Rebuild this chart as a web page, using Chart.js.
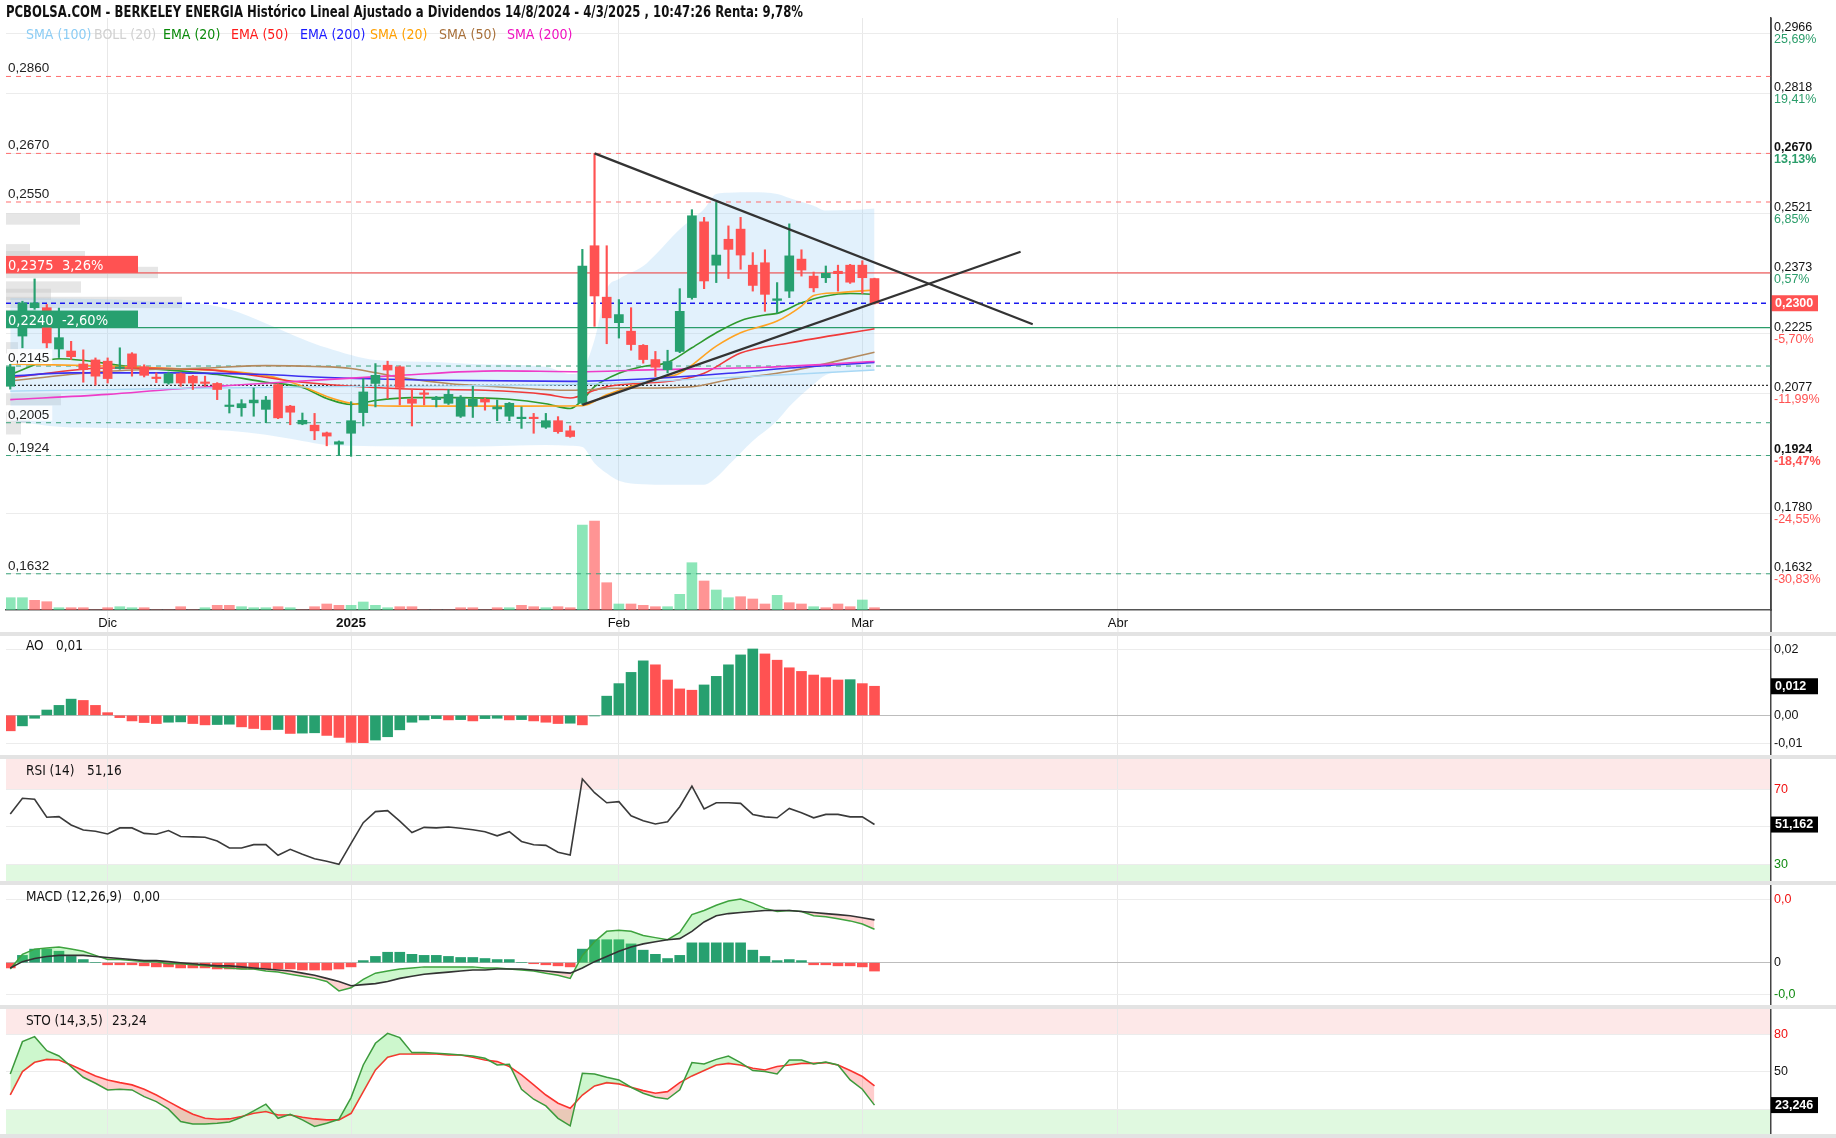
<!DOCTYPE html>
<html>
<head>
<meta charset="utf-8">
<title>Berkeley Energia</title>
<script src="https://cdn.jsdelivr.net/npm/chart.js@4.4.1/dist/chart.umd.min.js"></script>
<style>
  body { margin: 0; background: #fff; width: 1836px; height: 1138px; position: relative; overflow: hidden; font-family: "Liberation Sans", Arial, sans-serif; }
  canvas { position: absolute; left: 0; }
  .narrow { font-family: "Liberation Sans Narrow", "DejaVu Sans Condensed", "Roboto Condensed", sans-serif; }
  #title { position: absolute; left: 6px; top: 3px; font-size: 15px; font-weight: bold; color: #111; white-space: nowrap; z-index: 2; transform-origin: left top; }
  .leg { position: absolute; top: 26px; font-size: 14px; white-space: nowrap; z-index: 2; }
  .pt { position: absolute; font-size: 13.5px; color: #111; z-index: 2; white-space: nowrap; }
  .sep { position: absolute; left: 0; width: 1836px; background: #e3e3e3; }
</style>
</head>
<body>
<div id="title" class="narrow">PCBOLSA.COM - BERKELEY ENERGIA Histórico Lineal Ajustado a Dividendos 14/8/2024 - 4/3/2025 , 10:47:26 Renta: 9,78%</div>
<div class="leg narrow" style="left:26px;color:#8ccdf5">SMA (100)</div>
<div class="leg narrow" style="left:94px;color:#d0d0d0">BOLL (20)</div>
<div class="leg narrow" style="left:163px;color:#0a8a0a">EMA (20)</div>
<div class="leg narrow" style="left:231px;color:#ff1a1a">EMA (50)</div>
<div class="leg narrow" style="left:300px;color:#1a1aff">EMA (200)</div>
<div class="leg narrow" style="left:370px;color:#ffa000">SMA (20)</div>
<div class="leg narrow" style="left:439px;color:#a8703a">SMA (50)</div>
<div class="leg narrow" style="left:507px;color:#f010c0">SMA (200)</div>

<canvas id="mainChart" width="1836" height="632" style="top:0"></canvas>
<div class="sep" style="top:632px;height:4px"></div>
<canvas id="aoChart" width="1836" height="119" style="top:636px"></canvas>
<div class="sep" style="top:755px;height:4px"></div>
<canvas id="rsiChart" width="1836" height="122" style="top:759px"></canvas>
<div class="sep" style="top:881px;height:4px"></div>
<canvas id="macdChart" width="1836" height="120" style="top:885px"></canvas>
<div class="sep" style="top:1005px;height:4px"></div>
<canvas id="stoChart" width="1836" height="125" style="top:1009px"></canvas>
<div class="sep" style="top:1134px;height:4px"></div>

<div class="pt narrow" style="left:26px;top:637px">AO</div>
<div class="pt narrow" style="left:56px;top:637px">0,01</div>
<div class="pt narrow" style="left:26px;top:762px">RSI (14)</div>
<div class="pt narrow" style="left:87px;top:762px">51,16</div>
<div class="pt narrow" style="left:26px;top:888px">MACD (12,26,9)</div>
<div class="pt narrow" style="left:133px;top:888px">0,00</div>
<div class="pt narrow" style="left:26px;top:1012px">STO (14,3,5)</div>
<div class="pt narrow" style="left:112px;top:1012px">23,24</div>

<script>
// trading days shown (index 0 = 20/11/2024)
var days = ['20/11','21/11','22/11','25/11','26/11','27/11','28/11','29/11',
  '02/12','03/12','04/12','05/12','06/12','09/12','10/12','11/12','12/12','13/12',
  '16/12','17/12','18/12','19/12','20/12','23/12','24/12','27/12','30/12','31/12',
  '02/01','03/01','06/01','07/01','08/01','09/01','10/01','13/01','14/01','15/01','16/01','17/01',
  '20/01','21/01','22/01','23/01','24/01','27/01','28/01','29/01','30/01','31/01',
  '03/02','04/02','05/02','06/02','07/02','10/02','11/02','12/02','13/02','14/02',
  '17/02','18/02','19/02','20/02','21/02','24/02','25/02','26/02','27/02','28/02',
  '03/03','04/03'];
var monthIdx = [8, 28, 50, 70, 91];
var monthLabels = ['Dic', '2025', 'Feb', 'Mar', 'Abr'];

var open = [.2095,.2219,.2289,.2289,.2187,.2182,.2150,.2160,.2157,.2139,.2175,.2143,.2117,.2103,.2126,.2120,.2105,.2102,.2045,.2042,
  .2054,.2038,.2099,.2046,.2002,.1999,.1980,.1952,.1979,.2030,.2102,.2147,.2143,.2063,.2077,.2062,.2053,.2021,.2046,.2063,
  .2039,.2021,.2015,.2017,.1994,.2010,.1985,.2053,.2442,.2315,.2252,.2231,.2196,.2161,.2136,.2181,.2314,.2501,.2394,.2458,
  .2483,.2394,.2400,.2307,.2330,.2409,.2367,.2363,.2379,.2394,.2394,.2361];
var high = [.2150,.2305,.2360,.2297,.2288,.2206,.2185,.2165,.2165,.2190,.2178,.2148,.2128,.2130,.2128,.2122,.2120,.2104,.2087,.2062,
  .2091,.2070,.2101,.2048,.2029,.2028,.1982,.1960,.2057,.2114,.2151,.2157,.2145,.2087,.2087,.2070,.2087,.2072,.2095,.2066,
  .2061,.2055,.2044,.2028,.2028,.2020,.1997,.2433,.2670,.2442,.2309,.2289,.2198,.2181,.2184,.2336,.2531,.2512,.2549,.2491,
  .2512,.2425,.2432,.2351,.2496,.2432,.2377,.2392,.2394,.2396,.2405,.2362];
var low = [.2088,.2190,.2285,.2190,.2166,.2161,.2105,.2098,.2103,.2137,.2120,.2118,.2104,.2100,.2095,.2087,.2095,.2062,.2029,.2021,
  .2021,.2005,.2015,.2000,.2000,.1963,.1948,.1924,.1922,.1997,.2044,.2065,.2049,.1997,.2049,.2044,.2050,.2018,.2018,.2036,
  .2010,.2010,.1991,.1979,.1991,.1979,.1969,.2050,.2243,.2200,.2214,.2184,.2152,.2119,.2128,.2178,.2310,.2336,.2351,.2361,
  .2384,.2330,.2280,.2276,.2314,.2367,.2328,.2351,.2330,.2349,.2324,.2298];
var close = [.2143,.2301,.2301,.2202,.2215,.2168,.2136,.2120,.2114,.2143,.2143,.2122,.2114,.2126,.2103,.2103,.2102,.2087,.2047,.2052,
  .2061,.2061,.2017,.2031,.2011,.1985,.1972,.1958,.2010,.2081,.2122,.2135,.2092,.2053,.2075,.2067,.2075,.2067,.2063,.2056,
  .2044,.2053,.2017,.2015,.2010,.1983,.1971,.2392,.2318,.2264,.2272,.2198,.2161,.2142,.2156,.2280,.2516,.2355,.2419,.2433,
  .2419,.2344,.2322,.2311,.2417,.2382,.2338,.2374,.2373,.2352,.2363,.2300];
var volume = [123,123,97,83,23,23,23,0,23,33,23,23,0,0,33,0,23,47,47,33,
  23,23,33,23,0,33,60,47,47,80,47,23,33,33,0,0,0,23,23,0,
  23,23,47,33,23,33,23,850,890,273,60,60,47,33,33,157,473,290,200,123,
  133,110,60,147,73,60,33,23,60,33,100,23];
var volumeUp = [1,1,0,0,1,0,0,0,0,1,1,0,0,0,0,0,1,0,0,1,
  1,1,0,1,0,0,0,0,1,1,1,1,0,0,0,0,0,0,0,0,
  0,1,0,0,1,0,0,1,0,0,1,0,0,0,1,1,1,0,1,1,
  0,0,0,1,0,0,1,0,0,0,1,0];

// overlays: [day index, price]
var sma100 = [[0,.2083],[15,.2090],[30,.2095],[47,.2100],[56,.2112],[71,.2135]];
var bandX = [0,4,8,13,15,18,21,24,26,30,35,38,44,46,47,48,49,50,52,53,55,57,58,59,61,63,64,66,67,69,71];
var bandUp = [.2313,.2312,.2310,.2303,.2301,.2285,.2250,.2212,.2190,.2160,.2155,.2150,.2143,.2125,.2136,.2210,.2334,.2360,.2392,.2420,
  .2483,.2533,.2570,.2573,.2574,.2570,.2560,.2541,.2529,.2530,.2534];
var bandLow = [.2010,.1995,.1992,.1990,.1989,.1985,.1975,.1960,.1950,.1947,.1946,.1946,.1950,.1948,.1945,.1905,.1880,.1862,.1853,.1852,
  .1852,.1852,.1870,.1900,.1960,.2010,.2045,.2100,.2123,.2132,.2136];
var ema20 = [[0,.2124],[4,.2163],[10,.2143],[17,.2124],[21,.2105],[24,.2092],[26,.2065],[28,.2050],[30,.2060],[33,.2067],[37,.2067],
  [41,.2063],[44,.2052],[46,.2040],[47,.2061],[48,.2094],[50,.2127],[52,.2144],[54,.2154],[56,.2190],[58,.2227],[60,.2257],
  [62,.2271],[63,.2275],[65,.2301],[67,.2318],[69,.2324],[71,.2322]];
var ema50 = [[0,.2116],[8,.2140],[16,.2136],[24,.2105],[32,.2089],[39,.2085],[44,.2075],[46,.2066],[48,.2085],[49,.2094],
  [55,.2111],[57,.2127],[60,.2177],[64,.2202],[71,.2237]];
var ema200 = [[0,.2120],[5,.2128],[13,.2128],[21,.2124],[25,.2118],[35,.2110],[46,.2107],[52,.2113],[59,.2127],[64,.2140],[71,.2154]];
var sma20 = [[0,.2150],[8,.2145],[14,.2138],[18,.2132],[22,.2115],[24,.2095],[26,.2070],[28,.2053],[32,.2046],[40,.2046],[47,.2047],
  [49,.2074],[53,.2113],[55,.2127],[58,.2194],[60,.2227],[63,.2256],[65,.2293],[66,.2319],[68,.2326],[71,.2333]];
var sma50 = [[0,.2108],[8,.2132],[16,.2140],[21,.2146],[25,.2144],[28,.2139],[32,.2117],[36,.2102],[40,.2094],[46,.2085],[50,.2090],
  [56,.2094],[59,.2111],[64,.2132],[71,.2179]];
var sma200 = [[0,.2062],[8,.2075],[13,.2087],[18,.2097],[24,.2108],[32,.2122],[40,.2133],[47,.2131],[53,.2136],[62,.2142],[71,.2156]];
var trendDown = [[48,.2670],[84,.2248]];
var trendUp = [[47,.2049],[83,.2427]];

// horizontal levels
var redLevels = [.2860, .2670, .2550];
var greenLevels = [.2145, .2005, .1924, .1632];
var leftLevels = [.2860, .2670, .2550, .2145, .2005, .1924, .1632];
var lastPrice = .2300;
var resistLine = .2375, supportLine = .2240, dottedLine = .2097;

// volume at price on the left edge
var profilePrice = [.2508, .2432, .2415, .2376, .2340, .2322, .2302, .2270, .2190, .2062, .2018, .1990];
var profileVol = [74, 24, 79, 152, 75, 45, 176, 30, 12, 55, 24, 15];

// right axis
var priceTicks = [.2966, .2818, .2670, .2521, .2373, .2225, .2077, .1924, .1780, .1632];
var pctLabels = ['25,69%', '19,41%', '13,13%', '6,85%', '0,57%', '-5,70%', '-11,99%', '-18,47%', '-24,55%', '-30,83%'];

// indicators
var ao = [-.0047,-.0032,-.0009,.0016,.0030,.0049,.0045,.0030,.0008,-.0007,-.0017,-.0022,-.0025,-.0021,-.0020,-.0025,-.0029,-.0028,-.0027,-.0035,
  -.0040,-.0044,-.0043,-.0055,-.0054,-.0053,-.0061,-.0067,-.0082,-.0083,-.0075,-.0065,-.0044,-.0021,-.0014,-.0010,-.0014,-.0013,-.0017,-.0010,
  -.0009,-.0014,-.0013,-.0017,-.0021,-.0025,-.0024,-.0029,-.0002,.0058,.0096,.0130,.0165,.0153,.0107,.0080,.0076,.0092,.0118,.0153,
  .0183,.0201,.0186,.0167,.0144,.0133,.0122,.0114,.0107,.0108,.0096,.0088];
var rsi = [56.8,65.2,64.7,55.1,55.4,51.0,48.3,47.6,46.2,49.4,49.4,46.5,46.0,48.0,44.8,44.6,44.4,42.4,38.7,38.7,
  40.5,40.5,34.8,38.0,35.3,33.0,31.6,30.0,41.2,52.2,58.1,58.6,53.0,46.9,49.7,49.4,49.9,49.2,48.4,47.4,
  45.2,47.4,42.2,40.4,40.1,36.4,35.0,75.5,68.2,62.8,63.4,55.9,53.2,51.5,52.7,60.7,71.7,59.5,62.8,62.8,
  62.5,56.6,55.3,54.8,59.8,57.5,54.8,56.6,56.6,55.3,55.3,51.2];
var macd = [-.0006,.0008,.0013,.0014,.0015,.0013,.0011,.0007,.0003,.0003,.0002,.0001,.0001,-.0001,-.0001,-.0002,-.0003,-.0004,-.0005,-.0006,
  -.0006,-.0008,-.0009,-.0011,-.0013,-.0015,-.0018,-.0027,-.0024,-.0016,-.0010,-.0008,-.0006,-.0005,-.0004,-.0004,-.0004,-.0004,-.0004,-.0005,
  -.0005,-.0006,-.0007,-.0008,-.0010,-.0012,-.0015,.0007,.0020,.0030,.0031,.0030,.0026,.0024,.0022,.0029,.0046,.0050,.0055,.0059,
  .0061,.0057,.0052,.0049,.0050,.0049,.0045,.0044,.0042,.0040,.0037,.0032];
var signal = [-.0005,.0001,.0004,.0006,.0007,.0007,.0007,.0006,.0005,.0004,.0003,.0002,.0002,.0001,.0000,-.0001,-.0002,-.0003,-.0003,-.0004,
  -.0005,-.0006,-.0007,-.0008,-.0010,-.0012,-.0015,-.0018,-.0022,-.0021,-.0020,-.0018,-.0015,-.0013,-.0011,-.0010,-.0009,-.0008,-.0007,-.0007,
  -.0006,-.0006,-.0006,-.0007,-.0008,-.0009,-.0010,-.0005,.0001,.0006,.0011,.0015,.0018,.0020,.0022,.0023,.0030,.0039,.0045,.0047,
  .0048,.0049,.0050,.0050,.0050,.0049,.0048,.0047,.0046,.0045,.0043,.0041];
var macdHist = [-.0005,.0007,.0013,.0013,.0011,.0006,.0003,.0000,-.0002,-.0002,-.0002,-.0003,-.0004,-.0004,-.0005,-.0005,-.0005,-.0006,-.0006,-.0006,
  -.0006,-.0006,-.0006,-.0006,-.0007,-.0007,-.0007,-.0006,-.0004,.0002,.0006,.0010,.0010,.0008,.0007,.0007,.0006,.0005,.0005,.0004,
  .0003,.0003,.0000,-.0001,-.0002,-.0003,-.0004,.0013,.0022,.0022,.0022,.0018,.0012,.0008,.0004,.0007,.0019,.0019,.0019,.0019,
  .0019,.0012,.0006,.0002,.0003,.0002,-.0002,-.0002,-.0003,-.0003,-.0004,-.0008];
var stoK = [48.2,74.1,78.1,66.9,62.6,54.1,45.5,40.7,35.4,35.9,35.4,30.0,26.0,19.9,10.0,8.1,8.1,8.6,9.7,13.4,
  18.5,23.9,12.6,15.8,11.3,6.0,8.6,11.8,29.2,55.4,72.8,80.8,77.3,65.3,65.3,64.8,64.2,63.4,62.6,60.8,
  55.4,55.9,35.9,27.9,22.5,12.6,6.5,48.7,48.2,45.5,43.4,37.5,32.7,29.5,28.1,35.4,57.3,56.2,59.9,62.6,
  57.3,50.9,50.1,48.2,59.4,59.4,56.2,57.8,55.4,43.4,35.9,23.2];
var stoD = [31.3,50.1,57.5,59.9,59.4,55.4,50.9,46.6,43.4,41.2,39.4,35.9,31.3,26.0,20.7,15.8,12.6,11.8,12.1,14.0,
  16.6,18.0,15.3,15.3,13.4,12.1,11.3,11.3,16.6,34.0,51.4,61.6,64.2,64.2,64.2,64.2,63.4,63.4,61.6,59.4,
  58.1,54.1,47.4,39.4,31.3,24.7,20.7,31.3,38.6,41.2,40.2,37.5,34.8,32.7,34.0,41.2,46.6,50.9,55.4,56.7,
  55.4,52.7,51.4,54.1,55.4,56.7,56.7,57.3,55.4,50.9,46.1,38.6];

// title is drawn in a condensed face in the original: squeeze to its width
var titleEl = document.getElementById('title');
titleEl.style.transform = 'scaleX(' + (797 / titleEl.getBoundingClientRect().width) + ')';

// ---- drawing ----
var GREEN = '#27a06f', RED = '#ff5252';
var X_MIN = -0.35, X_MAX = 144.65;
var LABEL_FONT = '12.5px "Liberation Sans", Arial, sans-serif';
var BOLD_FONT = 'bold 12.5px "Liberation Sans", Arial, sans-serif';

function fmt(v, d) { return v.toFixed(d).replace('.', ','); }
function pts(arr) { return arr.map(function (p) { return { x: p[0], y: p[1] }; }); }
function series(arr) { return arr.map(function (v, i) { return { x: i, y: v }; }); }

function xScale(showBorder) {
  return {
    type: 'linear', min: X_MIN, max: X_MAX, offset: false,
    afterBuildTicks: function (s) { s.ticks = monthIdx.map(function (v) { return { value: v }; }); },
    ticks: { display: false },
    grid: { color: '#e8e8e8', drawTicks: false, offset: false },
    border: { display: !!showBorder, color: '#555', width: 1.5 }
  };
}
function yScale(min, max, ticks, gridColor) {
  return {
    position: 'right', min: min, max: max,
    afterBuildTicks: function (s) { s.ticks = ticks.map(function (v) { return { value: v }; }); },
    ticks: { display: false },
    grid: { color: gridColor || '#ececec', drawTicks: false },
    border: { display: true, color: '#444', width: 1.5 }
  };
}
function hline(value, color, dash, width) {
  return {
    type: 'line', data: [{ x: X_MIN, y: value }, { x: X_MAX, y: value }],
    borderColor: color, borderDash: dash, borderWidth: width || 1, pointRadius: 0, order: 6
  };
}
function maLine(arr, color, width) {
  return {
    type: 'line', data: pts(arr), borderColor: color, borderWidth: width || 1.6,
    pointRadius: 0, cubicInterpolationMode: 'monotone', order: 5
  };
}
function valueBox(ctx, text, y, bg) {
  if (!text) return;
  ctx.fillStyle = bg;
  ctx.fillRect(1771, y - 8, 47, 16);
  ctx.fillStyle = '#fff';
  ctx.font = BOLD_FONT;
  ctx.textAlign = 'left';
  ctx.textBaseline = 'middle';
  ctx.fillText(text, 1775, y + 0.5);
}

var candleColors = close.map(function (c, i) { return c >= open[i] ? GREEN : RED; });
var volColors = volumeUp.map(function (u) { return u ? 'rgba(70,215,140,0.62)' : 'rgba(255,90,90,0.65)'; });

var bandUpPts = bandX.map(function (x, k) { return { x: x, y: bandUp[k] }; });
var bandLowPts = bandX.map(function (x, k) { return { x: x, y: bandLow[k] }; });

var mainDecor = {
  id: 'mainDecor',
  beforeDatasetsDraw: function (chart) {
    var ctx = chart.ctx, area = chart.chartArea, y = chart.scales.y;
    ctx.save();
    ctx.fillStyle = 'rgba(200,200,200,0.45)';
    profilePrice.forEach(function (p, k) {
      var top = y.getPixelForValue(p + 0.0014), bot = y.getPixelForValue(p - 0.0014);
      ctx.fillRect(area.left, top, profileVol[k], bot - top);
    });
    ctx.restore();
  },
  afterDraw: function (chart) {
    var ctx = chart.ctx, area = chart.chartArea, y = chart.scales.y, x = chart.scales.x;
    ctx.save();
    // left level labels
    ctx.font = '13.5px "Liberation Sans", Arial, sans-serif';
    ctx.textBaseline = 'alphabetic';
    ctx.textAlign = 'left';
    leftLevels.forEach(function (v) {
      var py = y.getPixelForValue(v), t = fmt(v, 4), w = ctx.measureText(t).width;
      ctx.fillStyle = 'rgba(255,255,255,0.85)';
      ctx.fillRect(area.left + 1, py - 17, w + 4, 15);
      ctx.fillStyle = '#222';
      ctx.fillText(t, area.left + 2, py - 4);
    });
    // last high / low boxes
    [[resistLine, '0,2375  3,26%', RED], [supportLine, '0,2240  -2,60%', GREEN]].forEach(function (b) {
      var py = y.getPixelForValue(b[0]);
      ctx.fillStyle = b[2];
      ctx.fillRect(area.left, py - 17, 132, 17);
      ctx.fillStyle = '#fff';
      ctx.font = '14.5px "Liberation Sans Narrow", "DejaVu Sans Condensed", sans-serif';
      ctx.fillText(b[1], area.left + 2, py - 3);
    });
    // right axis
    ctx.textBaseline = 'middle';
    priceTicks.forEach(function (v, k) {
      var py = y.getPixelForValue(v);
      var bold = (v === .2670 || v === .1924);
      ctx.font = bold ? BOLD_FONT : LABEL_FONT;
      ctx.fillStyle = '#111';
      ctx.fillText(fmt(v, 4), 1774, py - 6);
      ctx.fillStyle = pctLabels[k].charAt(0) === '-' ? RED : '#2a9d6a';
      ctx.fillText(pctLabels[k], 1774, py + 6);
    });
    valueBox(ctx, fmt(lastPrice, 4), y.getPixelForValue(lastPrice), RED);
    // month labels and grid through the label row
    ctx.strokeStyle = '#e8e8e8';
    ctx.lineWidth = 1;
    monthIdx.forEach(function (v, k) {
      var px = x.getPixelForValue(v);
      ctx.beginPath();
      ctx.moveTo(px, area.bottom + 1);
      ctx.lineTo(px, chart.height);
      ctx.stroke();
      ctx.fillStyle = '#111';
      ctx.textAlign = 'center';
      ctx.font = monthLabels[k] === '2025' ? 'bold 13.5px "Liberation Sans", Arial, sans-serif' : '13px "Liberation Sans", Arial, sans-serif';
      ctx.fillText(monthLabels[k], px, area.bottom + 13);
    });
    ctx.strokeStyle = '#444';
    ctx.lineWidth = 1.5;
    ctx.beginPath();
    ctx.moveTo(area.right, area.top);
    ctx.lineTo(area.right, chart.height);
    ctx.stroke();
    ctx.restore();
  }
};

new Chart(document.getElementById('mainChart').getContext('2d'), {
  type: 'bar',
  data: {
    datasets: [
      { type: 'line', data: bandUpPts, borderWidth: 0, pointRadius: 0, fill: '+1',
        backgroundColor: 'rgba(150,205,245,0.28)', cubicInterpolationMode: 'monotone', order: 10 },
      { type: 'line', data: bandLowPts, borderWidth: 0, pointRadius: 0, fill: false,
        cubicInterpolationMode: 'monotone', order: 10 },
      { type: 'bar', yAxisID: 'yv', data: series(volume), backgroundColor: volColors,
        barThickness: 10, grouped: false, order: 9 },
      hline(redLevels[0], '#ff6e6e', [5, 5]),
      hline(redLevels[1], '#ff6e6e', [5, 5]),
      hline(redLevels[2], '#ff6e6e', [5, 5]),
      hline(greenLevels[0], '#3aa37a', [5, 5]),
      hline(greenLevels[1], '#3aa37a', [5, 5]),
      hline(greenLevels[2], '#3aa37a', [5, 5]),
      hline(greenLevels[3], '#3aa37a', [5, 5]),
      hline(resistLine, '#f06060', [], 1.2),
      hline(supportLine, '#2a9d6a', [], 1.2),
      hline(lastPrice, '#1a1aee', [5, 4], 1.3),
      hline(dottedLine, '#333', [2, 2], 1.2),
      maLine(sma100, '#a8d8f5', 1.4),
      maLine(sma200, '#ee3cc8'),
      maLine(ema200, '#3b30f0'),
      maLine(sma50, '#b48a5e'),
      maLine(ema50, '#f03a3a'),
      maLine(sma20, '#ffa322'),
      maLine(ema20, '#2e9a2e'),
      { type: 'bar', data: close.map(function (c, i) { return { x: i, y: [low[i], high[i]] }; }),
        backgroundColor: candleColors, barThickness: 1.5, grouped: false, order: 2 },
      { type: 'bar', data: close.map(function (c, i) { return { x: i, y: [open[i], c] }; }),
        backgroundColor: candleColors, barThickness: 9, minBarLength: 1.5, grouped: false, order: 1 },
      { type: 'line', data: pts(trendDown), borderColor: '#333', borderWidth: 2.2, pointRadius: 0, order: 0 },
      { type: 'line', data: pts(trendUp), borderColor: '#333', borderWidth: 2.2, pointRadius: 0, order: 0 }
    ]
  },
  options: {
    responsive: false,
    animation: false,
    layout: { padding: { left: 6, right: 65, top: 18, bottom: 22 } },
    plugins: { legend: { display: false }, tooltip: { enabled: false } },
    scales: {
      x: xScale(true),
      y: yScale(.15426, .30043, priceTicks),
      yv: { display: false, min: 0, max: 5920 }
    }
  },
  plugins: [mainDecor]
});

function panelDecor(id, zones, labels, box) {
  return {
    id: id,
    beforeDraw: function (chart) {
      var ctx = chart.ctx, area = chart.chartArea, y = chart.scales.y;
      ctx.save();
      zones.forEach(function (z) {
        var a = y.getPixelForValue(z[0]), b = y.getPixelForValue(z[1]);
        ctx.fillStyle = z[2];
        ctx.fillRect(area.left, Math.min(a, b), area.right - area.left, Math.abs(b - a));
      });
      ctx.restore();
    },
    afterDraw: function (chart) {
      var ctx = chart.ctx, y = chart.scales.y;
      ctx.save();
      ctx.font = LABEL_FONT;
      ctx.textAlign = 'left';
      ctx.textBaseline = 'middle';
      labels.forEach(function (l) {
        ctx.fillStyle = l[2];
        ctx.fillText(l[1], 1774, y.getPixelForValue(l[0]));
      });
      valueBox(ctx, box[1], y.getPixelForValue(box[0]), '#000');
      ctx.restore();
    }
  };
}
function panelOptions(yOpts) {
  return {
    responsive: false,
    animation: false,
    layout: { padding: { left: 6, right: 65, top: 0, bottom: 0 } },
    plugins: { legend: { display: false }, tooltip: { enabled: false } },
    scales: { x: xScale(false), y: yOpts }
  };
}
var zeroGrid = function (c) { return c.tick && c.tick.value === 0 ? '#bdbdbd' : '#ececec'; };

// AO
var aoColors = ao.map(function (v, i) { return (i === 0 || v >= ao[i - 1]) ? GREEN : RED; });
aoColors[0] = RED;
new Chart(document.getElementById('aoChart').getContext('2d'), {
  type: 'bar',
  data: { datasets: [{ data: series(ao), backgroundColor: aoColors, barThickness: 10, grouped: false }] },
  options: panelOptions(yScale(-.01203, .02403, [.02, 0, -.0085], zeroGrid)),
  plugins: [panelDecor('aoDecor', [], [[.02, '0,02', '#111'], [0, '0,00', '#111'], [-.0085, '-0,01', '#111']],
    [ao[ao.length - 1], '0,012'])]
});

// RSI
new Chart(document.getElementById('rsiChart').getContext('2d'), {
  type: 'line',
  data: { datasets: [{ data: series(rsi), borderColor: '#3a3a3a', borderWidth: 1.6, pointRadius: 0 }] },
  options: panelOptions(yScale(21.09, 86.16, [70, 50, 30])),
  plugins: [panelDecor('rsiDecor', [[70, 86.16, '#fde8e8'], [21.09, 30, '#e0f9e0']],
    [[70, '70', '#f01010'], [30, '30', '#108a10']], [rsi[rsi.length - 1], '51,162'])]
});

// MACD
new Chart(document.getElementById('macdChart').getContext('2d'), {
  type: 'bar',
  data: {
    datasets: [
      { type: 'line', data: series(macd), borderColor: '#3ea33e', borderWidth: 1.5, pointRadius: 0,
        fill: { target: 1, above: 'rgba(90,230,90,0.3)', below: 'rgba(255,90,90,0.28)' }, order: 1 },
      { type: 'line', data: series(signal), borderColor: '#333', borderWidth: 1.6, pointRadius: 0, order: 0 },
      { type: 'bar', data: series(macdHist), barThickness: 10, grouped: false, order: 2,
        backgroundColor: macdHist.map(function (v) { return v >= 0 ? GREEN : RED; }) }
    ]
  },
  options: panelOptions(yScale(-.004048, .007435, [.006, 0, -.003], zeroGrid)),
  plugins: [panelDecor('macdDecor', [], [[.006, '0,0', '#f01010'], [0, '0', '#111'], [-.003, '-0,0', '#108a10']],
    [0, ''])]
});

// Stochastic
new Chart(document.getElementById('stoChart').getContext('2d'), {
  type: 'line',
  data: {
    datasets: [
      { data: series(stoK), borderColor: '#3c9a3c', borderWidth: 1.5, pointRadius: 0,
        fill: { target: 1, above: 'rgba(90,230,90,0.3)', below: 'rgba(255,90,90,0.3)' } },
      { data: series(stoD), borderColor: '#ff2a2a', borderWidth: 1.6, pointRadius: 0 }
    ]
  },
  options: panelOptions(yScale(0, 100.3, [80, 50, 20])),
  plugins: [panelDecor('stoDecor', [[80, 100.3, '#fde8e8'], [0, 20, '#e0f9e0']],
    [[80, '80', '#f01010'], [50, '50', '#111']], [stoK[stoK.length - 1], '23,246'])]
});
</script>
</body>
</html>
